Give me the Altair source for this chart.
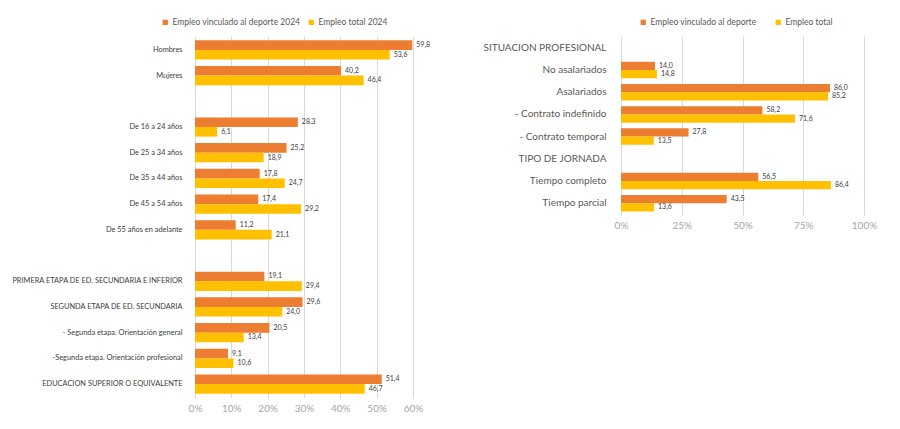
import altair as alt
import pandas as pd

ORANGE = "#ED7D31"
YELLOW = "#FFC000"

# ---------------- left panel data ----------------
left_cats = ["Hombres", "Mujeres", " ",
             "De 16 a 24 años", "De 25 a 34 años", "De 35 a 44 años",
             "De 45 a 54 años", "De 55 años en adelante", "  ",
             "PRIMERA ETAPA DE ED. SECUNDARIA E INFERIOR",
             "SEGUNDA ETAPA DE ED. SECUNDARIA",
             "- Segunda etapa. Orientación general",
             "-Segunda etapa. Orientación profesional",
             "EDUCACION SUPERIOR O EQUIVALENTE"]
left_sport = [59.8, 40.2, None, 28.3, 25.2, 17.8, 17.4, 11.2, None,
              19.1, 29.6, 20.5, 9.1, 51.4]
left_total = [53.6, 46.4, None, 6.1, 18.9, 24.7, 29.2, 21.1, None,
              29.4, 24.0, 13.4, 10.6, 46.7]
left_series = ["Empleo vinculado al deporte 2024", "Empleo total 2024"]
left_ticks = [0, 10, 20, 30, 40, 50, 60]

# ---------------- right panel data ----------------
right_cats = ["SITUACION PROFESIONAL", "No asalariados", "Asalariados",
              "- Contrato indefinido", "- Contrato temporal",
              "TIPO DE JORNADA", "Tiempo completo", "Tiempo parcial"]
right_sport = [None, 14.0, 86.0, 58.2, 27.8, None, 56.5, 43.5]
right_total = [None, 14.8, 85.2, 71.6, 13.5, None, 86.4, 13.6]
right_series = ["Empleo vinculado al deporte", "Empleo total"]
right_ticks = [0, 25, 50, 75, 100]

FONT = "Lato"


def build_df(cats, a, b, series):
    rows = []
    for c, va, vb in zip(cats, a, b):
        if va is not None:
            rows.append({"cat": c, "serie": series[0], "v": va,
                         "lab": f"{va:.1f}".replace(".", ",")})
        if vb is not None:
            rows.append({"cat": c, "serie": series[1], "v": vb,
                         "lab": f"{vb:.1f}".replace(".", ",")})
    return pd.DataFrame(rows)


def panel(df, cats, series, ticks, w, h, ylab_size, ylab_color, extent,
          ylab_pad, pad_inner, pad_outer, legX, legY, leg_col_pad):
    xmax = ticks[-1]
    x = alt.X("v:Q", scale=alt.Scale(domain=[0, xmax], nice=False),
              axis=alt.Axis(values=ticks, title=None, grid=True,
                            gridColor="#d9d9d9", gridWidth=1,
                            domain=False, ticks=False, labelFlush=False,
                            labelExpr="datum.value + '%'",
                            labelFont=FONT, labelFontSize=10,
                            labelColor="#a6a6a6", labelPadding=5))
    y = alt.Y("cat:N", scale=alt.Scale(domain=cats, paddingInner=pad_inner,
                                        paddingOuter=pad_outer),
              axis=alt.Axis(title=None, domain=False, ticks=False,
                            labelFont=FONT, labelFontSize=ylab_size,
                            labelColor=ylab_color, labelPadding=ylab_pad,
                            labelLimit=400, minExtent=extent,
                            maxExtent=extent))
    yoff = alt.YOffset("serie:N", scale=alt.Scale(domain=series,
                                                  paddingInner=0,
                                                  paddingOuter=0))
    color = alt.Color("serie:N",
                      scale=alt.Scale(domain=series, range=[ORANGE, YELLOW]),
                      legend=alt.Legend(orient="none", legendX=legX,
                                        legendY=legY, direction="horizontal",
                                        title=None, symbolType="square",
                                        symbolSize=28, symbolStrokeWidth=0,
                                        labelFont=FONT,
                                        labelFontSize=8.5,
                                        labelColor="#595959",
                                        columnPadding=leg_col_pad,
                                        padding=0,
                                        symbolOffset=0, labelOffset=3))
    base = alt.Chart(df).encode(x=x, y=y, yOffset=yoff)
    bars = base.mark_bar().encode(color=color)
    text = base.mark_text(align="left", baseline="middle", dx=4,
                          fontSize=7, font=FONT, color="#404040").encode(
        text="lab:N")
    return alt.layer(bars, text).properties(width=w, height=h)


left_df = build_df(left_cats, left_sport, left_total, left_series)
right_df = build_df(right_cats, right_sport, right_total, right_series)

left = panel(left_df, left_cats, left_series, left_ticks, 218, 362,
             7.4, "#404040", 190, 13, 0.25, 0.166, -34, -18, 6)
right = panel(right_df, right_cats, right_series, right_ticks, 243, 179,
              10, "#595959", 135, 15, 0.255, 0.16, 18, -18, 17)

chart = alt.hconcat(left, right, spacing=52).resolve_scale(
    color="independent", x="independent", y="independent",
    yOffset="independent").resolve_legend(color="independent").properties(
    padding={"left": 5, "top": 18, "right": 5, "bottom": 5}
).configure_view(stroke=None)

chart.save("out.html", embed_options={"renderer": "svg", "actions": False})
